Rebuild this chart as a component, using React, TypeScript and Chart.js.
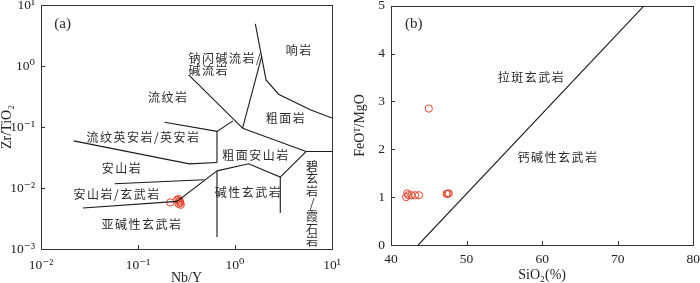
import React, { useEffect, useRef } from "react";
import { Chart, registerables } from "chart.js";
Chart.register(...registerables);

// ---------- Panel (a): Zr/TiO2 vs Nb/Y ----------
const sampleNbY = [0.215, 0.252, 0.262, 0.268, 0.273, 0.276, 0.27, 0.262];
const sampleZrTiO2 = [0.0058, 0.0064, 0.0066, 0.0062, 0.0057, 0.0053, 0.006, 0.0055];

const xTickValuesA = [0.01, 0.1, 1, 10];
const xTickLabelsA = ["10\u207B\u00B2", "10\u207B\u00B9", "10\u2070", "10\u00B9"];
const yTickValuesA = [0.001, 0.01, 0.1, 1, 10];
const yTickLabelsA = ["10\u207B\u00B3", "10\u207B\u00B2", "10\u207B\u00B9", "10\u2070", "10\u00B9"];

// boundary polylines [Nb/Y, Zr/TiO2]
const lineComendite = [[0.333, 0.715], [1.197, 0.0957]];
const lineRhyolite = [[0.188, 0.12], [0.652, 0.0849], [0.953, 0.126]];
const lineVerticalUpper = [[0.652, 0.0849], [0.652, 0.0262]];
const lineComenditeTrachyte = [[1.197, 0.0957], [1.89, 1.46]];
const linePhonolite = [[1.62, 4.89], [2.09, 0.591], [2.81, 0.345], [5.97, 0.191], [10, 0.14]];
const lineTrachyte = [[1.197, 0.0957], [5.4, 0.0396], [10, 0.0396]];
const lineRhyodacite = [[0.0217, 0.0593], [0.338, 0.0249], [0.652, 0.0262]];
const lineTrachyandesite = [[0.652, 0.0191], [1.38, 0.0249], [2.93, 0.0151], [5.4, 0.0396]];
const lineBasanite = [[2.93, 0.0151], [2.93, 0.00389]];
const lineAndesite = [[0.0574, 0.01172], [0.483, 0.01364]];
const lineSubalkaline = [[0.0271, 0.0047], [0.252, 0.00603], [0.652, 0.0191]];
const lineVerticalLower = [[0.652, 0.0191], [0.652, 0.00157]];

const boundariesA = [
  lineComendite, lineRhyolite, lineVerticalUpper, lineComenditeTrachyte, linePhonolite,
  lineTrachyte, lineRhyodacite, lineTrachyandesite, lineBasanite, lineAndesite,
  lineSubalkaline, lineVerticalLower,
];

// field labels [text, Nb/Y, Zr/TiO2, align]
const labelsA: [string, number, number, string][] = [
  ["响岩", 4.6, 1.77, "center"],
  ["钠闪碱流岩/", 0.332, 1.31, "left"],
  ["碱流岩", 0.332, 0.831, "left"],
  ["流纹岩", 0.205, 0.303, "center"],
  ["粗面岩", 3.36, 0.136, "center"],
  ["流纹英安岩/英安岩", 0.114, 0.0683, "center"],
  ["粗面安山岩", 1.65, 0.0341, "center"],
  ["安山岩", 0.0684, 0.0207, "center"],
  ["安山岩/玄武岩", 0.0608, 0.00775, "center"],
  ["碱性玄武岩", 1.38, 0.00857, "center"],
  ["亚碱性玄武岩", 0.11, 0.00257, "center"],
];
const verticalLabelA: [string, number, number] = ["碧玄岩/霞石岩", 6.22, 0.00552];
const panelTagA: [string, number, number] = ["(a)", 0.0137, 4.89];

// ---------- Panel (b): FeOT/MgO vs SiO2 ----------
const sampleSiO2 = [42.0, 42.15, 42.3, 42.7, 43.2, 43.7, 45.0, 47.35, 47.5, 47.65];
const sampleFeOMgO = [1.0, 1.08, 1.04, 1.04, 1.04, 1.04, 2.85, 1.07, 1.07, 1.08];
const xTicksB = [40, 50, 60, 70, 80];
const yTicksB = [0, 1, 2, 3, 4, 5];
const lineTholeiite = [[43.6, 0], [73.5, 5]];
const labelsB: [string, number, number, string][] = [
  ["拉斑玄武岩", 58.6, 3.5, "center"],
  ["钙碱性玄武岩", 62.1, 1.83, "center"],
];
const panelTagB: [string, number, number] = ["(b)", 41.85, 4.62];

const SERIF = '"Liberation Serif", "DejaVu Serif", serif';
const CJK = '"Noto Sans CJK SC", "Noto Sans", sans-serif';
const RED = "#e8412c";
const INK = "#1a1a1a";

function framePlugin(labels: [string, number, number, string][], tag: [string, number, number], vertical?: [string, number, number]) {
  return {
    id: "frame",
    afterDatasetsDraw(chart: any) {
      const { ctx, chartArea: a, scales } = chart;
      const xs = scales.x, ys = scales.y;
      ctx.save();
      ctx.strokeStyle = "#333";
      ctx.lineWidth = 1;
      ctx.strokeRect(Math.round(a.left) + 0.5, Math.round(a.top) + 0.5, Math.round(a.right - a.left), Math.round(a.bottom - a.top));
      ctx.beginPath();
      xs.ticks.forEach((t: any) => {
        const px = Math.round(xs.getPixelForValue(t.value)) + 0.5;
        ctx.moveTo(px, a.bottom);
        ctx.lineTo(px, a.bottom - 4);
      });
      ys.ticks.forEach((t: any) => {
        const py = Math.round(ys.getPixelForValue(t.value)) + 0.5;
        ctx.moveTo(a.left, py);
        ctx.lineTo(a.left + 4, py);
      });
      ctx.stroke();
      ctx.fillStyle = "#2a2a2a";
      ctx.font = `12px ${CJK}`;
      ctx.textBaseline = "middle";
      (ctx as any).letterSpacing = "1.5px";
      labels.forEach(([t, x, y, al]) => {
        ctx.textAlign = al as CanvasTextAlign;
        ctx.fillText(t, xs.getPixelForValue(x), ys.getPixelForValue(y));
      });
      (ctx as any).letterSpacing = "0px";
      if (vertical) {
        const [t, x, y] = vertical;
        const chars = Array.from(t);
        const cx = xs.getPixelForValue(x);
        const cy = ys.getPixelForValue(y);
        const step = 12.6;
        ctx.textAlign = "center";
        chars.forEach((c, i) => {
          ctx.fillText(c, cx, cy + (i - (chars.length - 1) / 2) * step);
        });
      }
      ctx.font = `15px ${SERIF}`;
      ctx.textAlign = "left";
      ctx.fillText(tag[0], xs.getPixelForValue(tag[1]), ys.getPixelForValue(tag[2]));
      ctx.restore();
    },
  };
}

function lineDataset(pts: number[][]) {
  return {
    type: "scatter",
    data: pts.map(([x, y]) => ({ x, y })),
    showLine: true,
    pointRadius: 0,
    borderColor: INK,
    borderWidth: 1.1,
    fill: false,
  };
}

function sampleDataset(xs: number[], ys: number[]) {
  return {
    type: "scatter",
    data: xs.map((x, i) => ({ x, y: ys[i] })),
    pointRadius: 3.6,
    pointStyle: "circle",
    borderColor: RED,
    backgroundColor: "rgba(0,0,0,0)",
    borderWidth: 1,
  };
}

function useChart(ref: React.RefObject<HTMLCanvasElement | null>, make: () => any) {
  useEffect(() => {
    if (!ref.current) return;
    const chart = new Chart(ref.current, make());
    return () => chart.destroy();
  }, []);
}

const tickFont = { family: SERIF, size: 13.5 };
const titleFont = { family: SERIF, size: 14 };

function fixWidth(w: number) {
  return (s: any) => { s.width = w; s.paddingTop = 0; s.paddingBottom = 0; s.paddingLeft = 0; s.paddingRight = 0; };
}
function fixHeight(h: number) {
  return (s: any) => { s.height = h; s.paddingTop = 0; s.paddingBottom = 0; s.paddingLeft = 0; s.paddingRight = 0; };
}

export default function App() {
  const refA = useRef<HTMLCanvasElement>(null);
  const refB = useRef<HTMLCanvasElement>(null);

  useChart(refA, () => ({
    type: "scatter",
    data: {
      datasets: [...boundariesA.map(lineDataset), sampleDataset(sampleNbY, sampleZrTiO2)],
    },
    options: {
      responsive: false,
      animation: false,
      devicePixelRatio: 1,
      layout: { padding: { top: 5, right: 13, left: 0, bottom: 0 } },
      plugins: { legend: { display: false }, tooltip: { enabled: false } },
      scales: {
        x: {
          type: "logarithmic",
          min: 0.01,
          max: 10,
          grid: { display: false, drawTicks: false },
          border: { display: false },
          afterBuildTicks: (s: any) => { s.ticks = xTickValuesA.map((v) => ({ value: v })); },
          afterFit: fixHeight(34),
          ticks: {
            font: tickFont, color: "#222", padding: 8, maxRotation: 0, autoSkip: false,
            callback: (v: any) => xTickLabelsA[xTickValuesA.findIndex((t) => Math.abs(t - v) / t < 1e-6)] ?? "",
          },
          title: { display: true, text: "Nb/Y", font: titleFont, color: "#222", padding: { top: 0, bottom: -4 } },
        },
        y: {
          type: "logarithmic",
          min: 0.001,
          max: 10,
          grid: { display: false, drawTicks: false },
          border: { display: false },
          afterBuildTicks: (s: any) => { s.ticks = yTickValuesA.map((v) => ({ value: v })); },
          afterFit: fixWidth(41),
          ticks: {
            font: tickFont, color: "#222", padding: 6, autoSkip: false,
            callback: (v: any) => yTickLabelsA[yTickValuesA.findIndex((t) => Math.abs(t - v) / t < 1e-6)] ?? "",
          },
          title: { display: true, text: "Zr/TiO\u2082", font: titleFont, color: "#222", padding: { top: -1, bottom: 0 } },
        },
      },
    },
    plugins: [framePlugin(labelsA, panelTagA, verticalLabelA)],
  }));

  useChart(refB, () => ({
    type: "scatter",
    data: {
      datasets: [lineDataset(lineTholeiite), sampleDataset(sampleSiO2, sampleFeOMgO)],
    },
    options: {
      responsive: false,
      animation: false,
      devicePixelRatio: 1,
      layout: { padding: { top: 5.7, right: 6.7, left: 0, bottom: 0 } },
      plugins: { legend: { display: false }, tooltip: { enabled: false } },
      scales: {
        x: {
          type: "linear",
          min: 40,
          max: 80,
          grid: { display: false, drawTicks: false },
          border: { display: false },
          afterBuildTicks: (s: any) => { s.ticks = xTicksB.map((v) => ({ value: v })); },
          afterFit: fixHeight(38),
          ticks: { font: tickFont, color: "#222", padding: 6, maxRotation: 0, autoSkip: false },
          title: { display: true, text: "SiO\u2082(%)", font: titleFont, color: "#222", padding: { top: 0, bottom: -1 } },
        },
        y: {
          type: "linear",
          min: 0,
          max: 5,
          grid: { display: false, drawTicks: false },
          border: { display: false },
          afterBuildTicks: (s: any) => { s.ticks = yTicksB.map((v) => ({ value: v })); },
          afterFit: fixWidth(46),
          ticks: { font: tickFont, color: "#222", padding: 6, autoSkip: false },
          title: { display: true, text: "FeO\u1D40/MgO", font: titleFont, color: "#222", padding: { top: 7, bottom: 0 } },
        },
      },
    },
    plugins: [framePlugin(labelsB, panelTagB)],
  }));

  return (
    <div style={{ position: "absolute", left: 0, top: 0, width: 700, height: 283, background: "#fff", overflow: "hidden" }}>
      <canvas ref={refA} width={345} height={283} style={{ position: "absolute", left: 0, top: 0, width: 345, height: 283 }} />
      <canvas ref={refB} width={355} height={283} style={{ position: "absolute", left: 345, top: 0, width: 355, height: 283 }} />
    </div>
  );
}
